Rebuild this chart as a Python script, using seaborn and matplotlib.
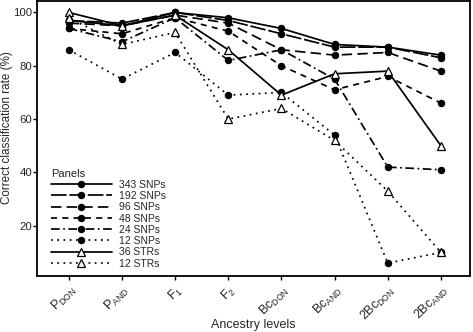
import pandas as pd
import matplotlib
matplotlib.use("Agg")
import matplotlib.pyplot as plt
import seaborn as sns

sns.set_theme(style="white")
plt.rcParams["font.family"] = ["Liberation Sans", "DejaVu Sans"]
plt.rcParams["mathtext.default"] = "regular"
plt.rcParams["axes.linewidth"] = 1.3

levels = [r"P$_{DON}$", r"P$_{AND}$", r"F$_1$", r"F$_2$", r"Bc$_{DON}$",
          r"Bc$_{AND}$", r"2Bc$_{DON}$", r"2Bc$_{AND}$"]

panels = ["343 SNPs", "192 SNPs", "96 SNPs", "48 SNPs", "24 SNPs", "12 SNPs",
          "36 STRs", "12 STRs"]

snp343 = [97, 95, 100, 98, 94, 88, 87, 84]
snp192 = [97, 96, 100, 97, 92, 87, 87, 83]
snp96 = [96, 95, 99, 96, 86, 84, 85, 78]
snp48 = [94, 92, 98, 93, 80, 71, 76, 66]
snp24 = [94, 89, 98, 82, 86, 75, 42, 41]
snp12 = [86, 75, 85, 69, 70, 54, 6, 10]
str36 = [100, 95, 99, 86, 69, 77, 78, 50]
str12 = [98, 88, 92.5, 60, 64, 52, 33, 10]

series = [snp343, snp192, snp96, snp48, snp24, snp12, str36, str12]

styles = {
    "343 SNPs": ("-", "o"),
    "192 SNPs": ((0, (9, 1.6)), "o"),
    "96 SNPs": ((0, (6, 3)), "o"),
    "48 SNPs": ((0, (3.5, 3)), "o"),
    "24 SNPs": ((0, (5, 2, 1, 2)), "o"),
    "12 SNPs": ((0, (1, 2.6)), "o"),
    "36 STRs": ("-", "^"),
    "12 STRs": ((0, (1, 2.6)), "^"),
}

rows = []
for name, vals in zip(panels, series):
    for i, v in enumerate(vals):
        rows.append({"Panel": name, "pos": i, "rate": v})
df = pd.DataFrame(rows)

fig = plt.figure(figsize=(4.73, 3.32), dpi=100)
ax = fig.add_axes([0.078, 0.169, 0.916, 0.828])

for name in panels:
    ls, mk = styles[name]
    sub = df[df["Panel"] == name]
    if mk == "o":
        mkw = dict(marker="o", markersize=4.6, markerfacecolor="black",
                   markeredgecolor="black")
    else:
        mkw = dict(marker="^", markersize=5.8, markerfacecolor="white",
                   markeredgecolor="black", markeredgewidth=0.9)
    sns.lineplot(data=sub, x="pos", y="rate", ax=ax, color="black",
                 linewidth=1.25, linestyle=ls, label=name, **mkw)

ax.set_xlim(-0.6, 7.55)
ax.set_ylim(1.2, 104.3)
ax.set_yticks([20, 40, 60, 80, 100])
ax.set_xticks(range(len(levels)))
ax.set_xticklabels(levels, rotation=45, ha="right", va="top",
                   rotation_mode="anchor", fontsize=9)
ax.tick_params(axis="y", labelsize=8.2, length=3, width=1, pad=0.5,
               left=True, color="black")
ax.tick_params(axis="x", length=3, width=1, pad=2, bottom=True,
               color="black")
for s in ax.spines.values():
    s.set_color("black")

ax.set_xlabel("Ancestry levels", fontsize=9)
ax.set_ylabel("Correct classification rate (%)", fontsize=8.4)
ax.xaxis.set_label_coords(0.5, -0.156)
ax.yaxis.set_label_coords(-0.055, 0.54)

leg = ax.legend(title="Panels", loc="lower left", frameon=False,
                fontsize=7.5, title_fontsize=8, handlelength=5.8,
                labelspacing=0.12, borderaxespad=0.3, handletextpad=0.7,
                bbox_to_anchor=(0.016, 0.0))
leg._legend_box.align = "left"

fig.savefig("out.png", dpi=100)
plt.close(fig)
